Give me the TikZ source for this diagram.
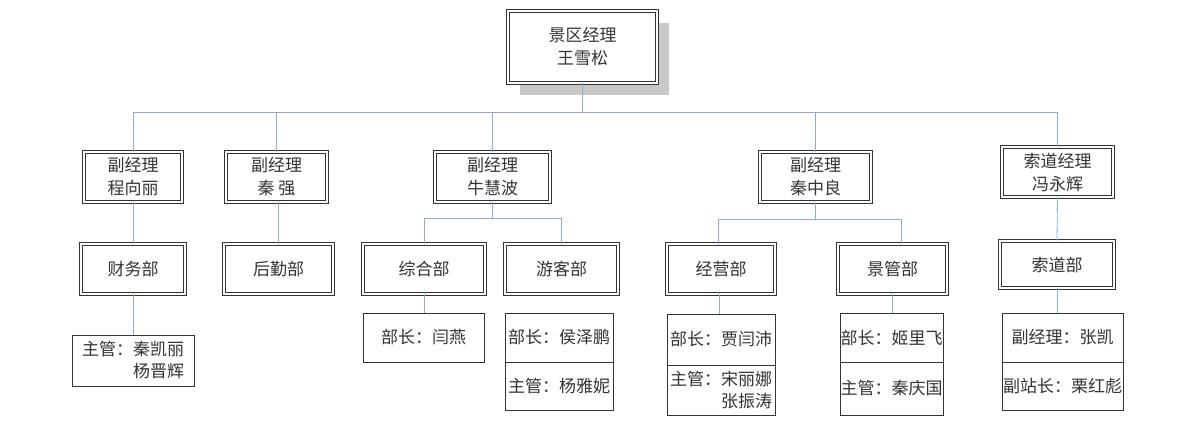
\documentclass[tikz,border=0pt]{standalone}
\usepackage{fontspec}
\usepackage{xcolor}
\usepackage{tikz}
\usetikzlibrary{shadows}
\newfontfamily\cjkfont{Noto Sans CJK SC}
\definecolor{linkblue}{HTML}{8EAADB}
\definecolor{boxdark}{HTML}{333333}
\definecolor{shadowgray}{HTML}{C8C8C8}

\begin{document}
\begin{tikzpicture}[x=1pt, y=-1pt,
    head_box/.style={draw=boxdark, double=white, double distance=1.4pt, line width=0.9pt, fill=white, inner sep=0pt, align=center, text=boxdark, font=\cjkfont\fontsize{17}{23}\selectfont, drop shadow={shadow xshift=12pt, shadow yshift=-12pt, fill=shadowgray, opacity=1}},
    dept_box/.style={draw=boxdark, double=white, double distance=1.4pt, line width=0.9pt, fill=white, inner sep=0pt, minimum height=50pt, align=center, text=boxdark, font=\cjkfont\fontsize{17}{23}\selectfont},
    staff_box/.style={draw=boxdark, line width=0.8pt, fill=white, inner sep=0pt, align=right, text=boxdark, font=\cjkfont\fontsize{17}{22}\selectfont},
    link/.style={draw=linkblue, line width=0.8pt}
]
    \useasboundingbox (0,0) rectangle (1200,421);

    % Nodes
    \node[head_box, minimum width=149pt, minimum height=72pt] (jingqu) at (582.5,47) {景区经理\\王雪松};

    \node[dept_box, minimum width=98pt] (cheng) at (133,177) {副经理\\程向丽};
    \node[dept_box, minimum width=101pt] (qin) at (276.5,177) {副经理\\秦 强};
    \node[dept_box, minimum width=115pt] (niu) at (492.5,177) {副经理\\牛慧波};
    \node[dept_box, minimum width=111pt] (qinzl) at (815.5,177) {副经理\\秦中良};
    \node[dept_box, minimum width=111pt] (feng) at (1057.5,172) {索道经理\\冯永辉};

    \node[dept_box, minimum width=104pt] (caiwu) at (133,269) {财务部};
    \node[dept_box, minimum width=109pt] (houqin) at (278.5,269) {后勤部};
    \node[dept_box, minimum width=122pt] (zonghe) at (424,269) {综合部};
    \node[dept_box, minimum width=113pt] (youke) at (561.5,269) {游客部};
    \node[dept_box, minimum width=108pt] (jingying) at (721,269) {经营部};
    \node[dept_box, minimum width=109pt] (jingguan) at (892.5,269) {景管部};
    \node[dept_box, minimum width=114pt, minimum height=47pt] (suodao) at (1057,264.5) {索道部};

    \node[staff_box, minimum width=122pt, minimum height=51pt] (caiwu_zg) at (133,360.5) {主管：秦凯丽\\杨晋辉};
    \node[staff_box, minimum width=121pt, minimum height=49pt] (zonghe_bz) at (423.5,337.5) {部长：闫燕};
    \node[staff_box, minimum width=108pt, minimum height=49pt] (youke_bz) at (559,337.5) {部长：侯泽鹏};
    \node[staff_box, minimum width=108pt, minimum height=48pt] (youke_zg) at (559,386) {主管：杨雅妮};
    \node[staff_box, minimum width=108pt, minimum height=51pt] (jingying_bz) at (721,339.5) {部长：贾闫沛};
    \node[staff_box, minimum width=108pt, minimum height=50pt] (jingying_zg) at (721,390) {主管：宋丽娜\\张振涛};
    \node[staff_box, minimum width=103pt, minimum height=49pt] (jingguan_bz) at (891.5,337.5) {部长：姬里飞};
    \node[staff_box, minimum width=103pt, minimum height=53pt] (jingguan_zg) at (891.5,388.5) {主管：秦庆国};
    \node[staff_box, minimum width=121pt, minimum height=49pt] (suodao_fj) at (1062.5,337.5) {副经理：张凯};
    \node[staff_box, minimum width=121pt, minimum height=48pt] (suodao_fz) at (1062.5,386) {副站长：栗红彪};

    % Connectors
    \coordinate (bus_top) at (582.5,112);
    \coordinate (bus_niu) at (492.5,218);
    \coordinate (bus_qzl) at (815.5,219);
    \draw[link] (jingqu.south) -- (bus_top);
    \foreach \n in {cheng,qin,niu,qinzl,feng}
        \draw[link] (bus_top) -| (\n.north);

    \draw[link] (cheng.south) -- (caiwu.north);
    \draw[link] (qin.south -| houqin.north) -- (houqin.north);
    \draw[link] (niu.south) -- (bus_niu);
    \draw[link] (bus_niu) -| (zonghe.north);
    \draw[link] (bus_niu) -| (youke.north);
    \draw[link] (qinzl.south) -- (bus_qzl);
    \draw[link] (bus_qzl) -| ([xshift=-3pt]jingying.north);
    \draw[link] (bus_qzl) -| ([xshift=9pt]jingguan.north);
    \draw[link] (feng.south) -- (suodao.north);

    \draw[link] (caiwu.south) -- (caiwu_zg.north);
    \draw[link] (zonghe.south) -- (zonghe.south |- zonghe_bz.north);
    \draw[link] ([xshift=-2pt]jingying.south) -- ([xshift=-2pt]jingying.south |- jingying_bz.north);
    \draw[link] (jingguan.south) -- (jingguan.south |- jingguan_bz.north);
    \draw[link] (suodao.south) -- (suodao.south |- suodao_fj.north);
\end{tikzpicture}
\end{document}
